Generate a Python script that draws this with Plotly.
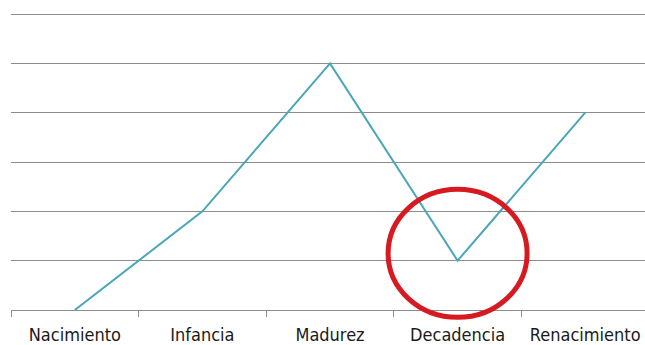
import plotly.graph_objects as go

categories = ["Nacimiento", "Infancia", "Madurez", "Decadencia", "Renacimiento"]
values = [0, 2, 5, 1, 4]
y_ticks = [0, 1, 2, 3, 4, 5, 6]
highlight = "Decadencia"

W, H = 645, 345
ml, mr, mt, mb = 11, 0, 10, 35
pw = W - ml - mr
ph = H - mt - mb
cat_px = 127.6
x_lo = -0.5
x_hi = -0.5 + pw / cat_px
unit_px = 49.33
y_lo = y_ticks[0]
y_hi = y_lo + ph / unit_px

fig = go.Figure()
fig.add_trace(go.Scatter(
    x=list(range(len(categories))), y=values, mode="lines",
    line=dict(color="#4aa6b8", width=2),
    hoverinfo="skip", showlegend=False,
))

# highlight ring around the chosen point (paper coords so it is not clipped)
hi = categories.index(highlight)
hv = values[hi]
cx = hi
cy = hv + 7.3 / unit_px
rx = 69.5 / cat_px
ry = 64 / unit_px

def xp(v):
    return (v - x_lo) / (x_hi - x_lo)

def yp(v):
    return (v - y_lo) / (y_hi - y_lo)

fig.add_shape(type="circle", xref="paper", yref="paper",
              x0=xp(cx - rx), x1=xp(cx + rx), y0=yp(cy - ry), y1=yp(cy + ry),
              line=dict(color="#d71a21", width=5), layer="above")

fig.update_layout(
    width=W, height=H,
    margin=dict(l=ml, r=mr, t=mt, b=mb, pad=0),
    paper_bgcolor="white", plot_bgcolor="white",
    font=dict(family="DejaVu Sans Condensed", size=18, color="#1a1a1a"),
    xaxis=dict(
        range=[x_lo, x_hi], automargin=False,
        tickmode="array", tickvals=list(range(len(categories))), ticktext=categories,
        showgrid=False, zeroline=False,
        showline=True, linecolor="#8c8c8c", linewidth=1,
        ticks="", ticklen=0, ticklabelstandoff=8,
        minor=dict(tickmode="array", tickvals=[i - 0.5 for i in range(len(categories) + 1)],
                   ticks="outside", ticklen=6, tickcolor="#8c8c8c", tickwidth=1, showgrid=False),
        tickfont=dict(size=18),
        fixedrange=True,
    ),
    yaxis=dict(
        range=[y_lo, y_hi], automargin=False,
        tickvals=y_ticks, showticklabels=False,
        showgrid=True, gridcolor="#8c8c8c", gridwidth=1,
        zeroline=False, showline=False, ticks="",
        fixedrange=True,
    ),
)

fig.write_html("out.html", config={"displayModeBar": False})
